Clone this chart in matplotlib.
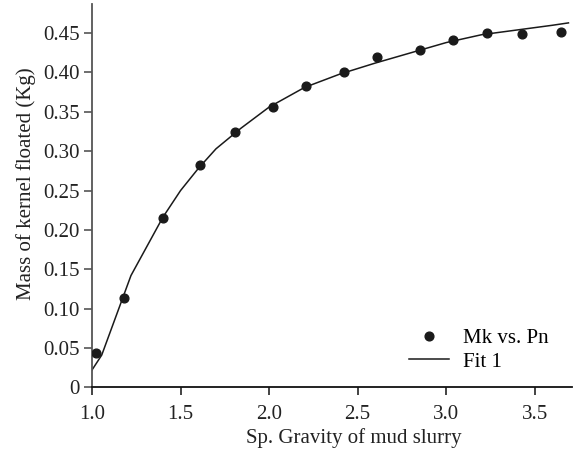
import matplotlib
matplotlib.use("Agg")
import matplotlib.pyplot as plt

plt.rcParams['font.family'] = ['Liberation Serif', 'DejaVu Serif']
plt.rcParams['mathtext.fontset'] = 'stix'

# Measured points: specific gravity of mud slurry vs. mass of kernel floated
sg_measured = [1.02, 1.18, 1.40, 1.61, 1.81, 2.02, 2.21, 2.42, 2.61, 2.85, 3.04, 3.23, 3.43, 3.65]
mass_measured = [0.044, 0.114, 0.215, 0.282, 0.324, 0.356, 0.383, 0.400, 0.420, 0.429, 0.441, 0.450, 0.449, 0.452]

# Fitted curve (Fit 1)
sg_fit = [1.00, 1.055, 1.22, 1.40, 1.50, 1.60, 1.70, 1.84, 2.00, 2.20, 2.40, 2.60, 2.80, 3.00, 3.20, 3.40, 3.60, 3.69]
mass_fit = [0.022, 0.041, 0.142, 0.216, 0.250, 0.278, 0.303, 0.329, 0.356, 0.381, 0.398, 0.412, 0.425, 0.438, 0.448, 0.454, 0.460, 0.463]

x_ticks = [1.0, 1.5, 2.0, 2.5, 3.0, 3.5]
x_tick_labels = ['1.0', '1.5', '2.0', '2.5', '3.0', '3.5']
y_ticks = [0, 0.05, 0.10, 0.15, 0.20, 0.25, 0.30, 0.35, 0.40, 0.45]
y_tick_labels = ['0', '0.05', '0.10', '0.15', '0.20', '0.25', '0.30', '0.35', '0.40', '0.45']

FS = 15
W, H = 573, 454
fig = plt.figure(figsize=(W / 100, H / 100), dpi=100)
ax = fig.add_axes([92 / W, (H - 387.3) / H, (572 - 92) / W, (387.3 - 4) / H])

ax.plot(sg_measured, mass_measured, linestyle='none', marker='o', markersize=6.3,
        color='#1a1a1a', label='Mk vs. Pn', zorder=3)
ax.plot(sg_fit, mass_fit, color='#1a1a1a', linewidth=1.1, label='Fit 1', zorder=2)

ax.set_xlim(1.0, 3.71)
ax.set_ylim(0, 0.487)
ax.set_xticks(x_ticks)
ax.set_xticklabels(x_tick_labels)
ax.set_yticks(y_ticks)
ax.set_yticklabels(y_tick_labels)

for side in ('top', 'right'):
    ax.spines[side].set_visible(False)
ax.spines['left'].set_color('#555555')
ax.spines['bottom'].set_color('#111111')
ax.spines['left'].set_linewidth(1.3)
ax.spines['bottom'].set_linewidth(1.3)

ax.tick_params(axis='both', direction='out', length=6, width=1.2, labelsize=FS,
               colors='#222222')
ax.tick_params(axis='y', pad=3, color='#555555')
ax.tick_params(axis='x', pad=7)

ax.set_xlabel('Sp. Gravity of mud slurry', fontsize=FS, color='#222222')
ax.set_ylabel('Mass of kernel floated (Kg)', fontsize=FS, color='#222222')
ax.xaxis.set_label_coords(0.546, -0.106)
ax.yaxis.set_label_coords(-0.117, 0.530)

ax.legend(loc='center left', bbox_to_anchor=(409 / W, (H - 350) / H),
          bbox_transform=fig.transFigure, frameon=False, fontsize=FS,
          handlelength=1.9, handletextpad=0.7, labelspacing=0.2,
          borderpad=0, borderaxespad=0)

fig.savefig('out.png', dpi=100)
